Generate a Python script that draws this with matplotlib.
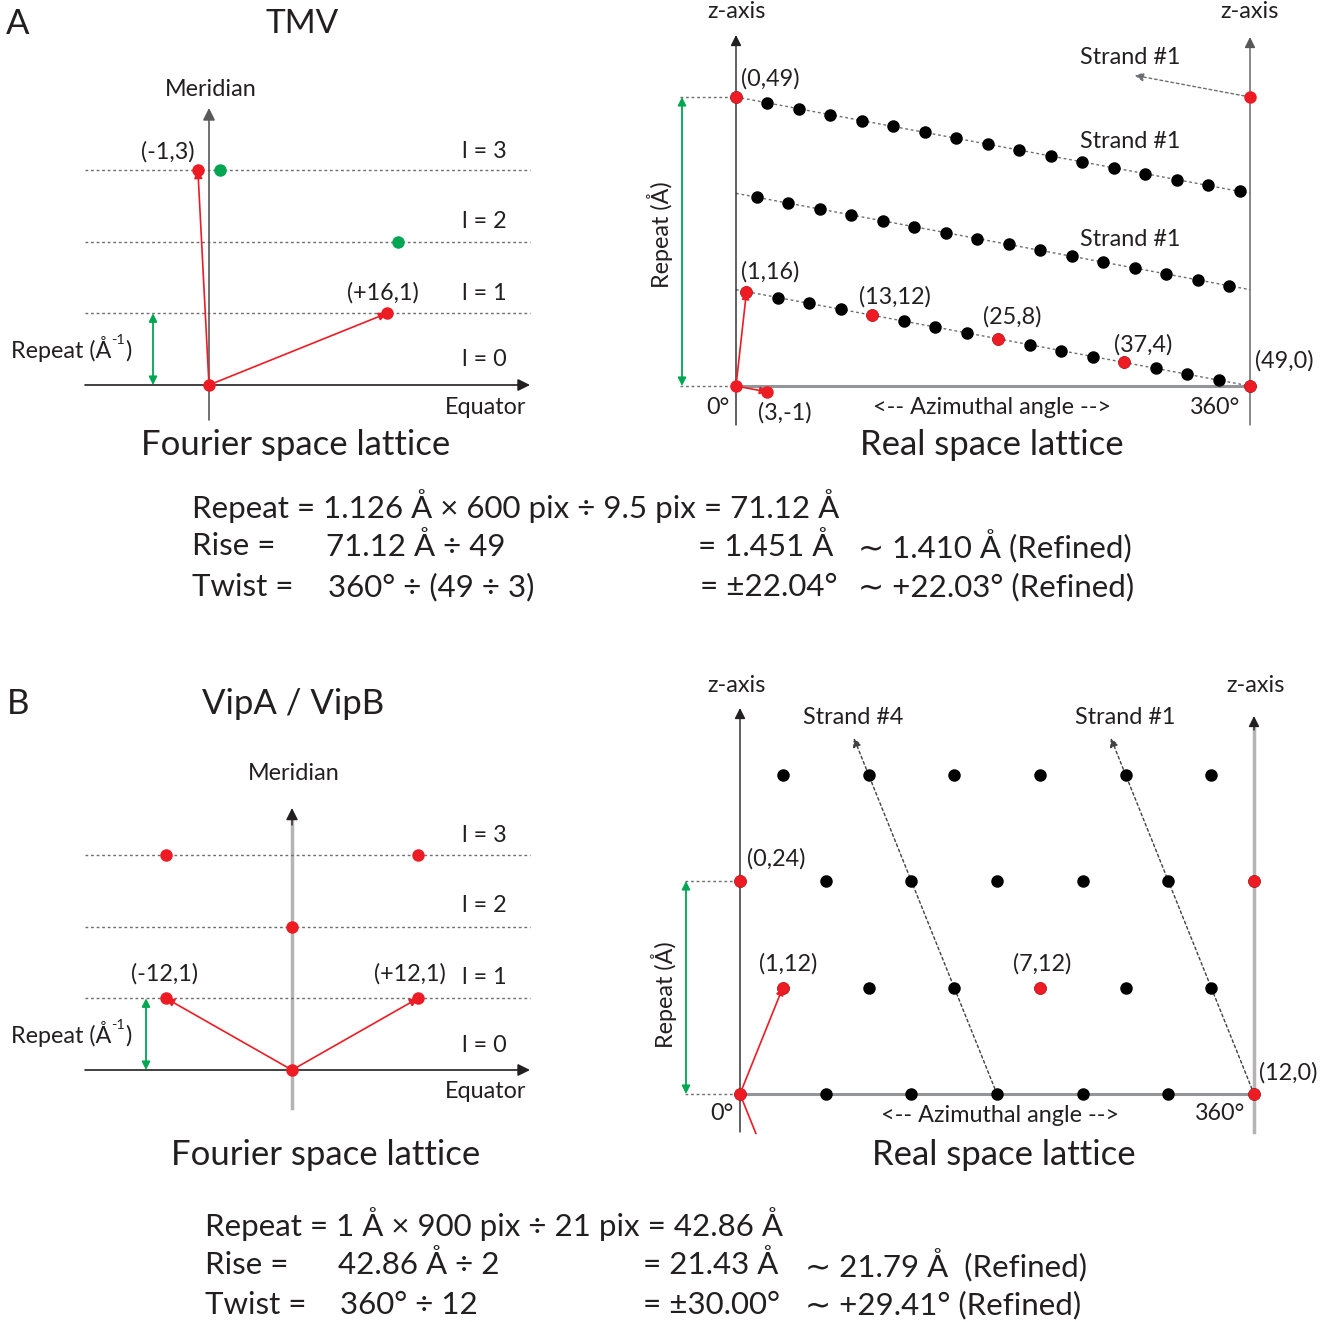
import matplotlib
matplotlib.use("Agg")
import matplotlib.pyplot as plt

plt.rcParams['font.family'] = ['Lato', 'DejaVu Sans']

W, H = 1330, 1322
RED = '#ed1c24'
GREEN = '#00a651'
BLK = '#231f20'
DOT = '#6d6e71'
LGRAY = '#b4b4b4'

# ---------------- data ----------------
# Panel A, Fourier space (Bessel order n, layer line l)
tmv_fourier_red_n = [0, 16, -1]
tmv_fourier_red_l = [0, 1, 3]
tmv_fourier_green_n = [1, 17]
tmv_fourier_green_l = [3, 2]
tmv_layer_lines = [1, 2, 3]

# Panel A, real space (azimuthal index, z index)
tmv_top_az = [0, 3, 6, 9, 12, 15, 18, 21, 24, 27, 30, 33, 36, 39, 42, 45, 48]
tmv_top_z = [49, 48, 47, 46, 45, 44, 43, 42, 41, 40, 39, 38, 37, 36, 35, 34, 33]
tmv_mid_az = [2, 5, 8, 11, 14, 17, 20, 23, 26, 29, 32, 35, 38, 41, 44, 47]
tmv_mid_z = [32, 31, 30, 29, 28, 27, 26, 25, 24, 23, 22, 21, 20, 19, 18, 17]
tmv_bot_az = [1, 4, 7, 10, 13, 16, 19, 22, 25, 28, 31, 34, 37, 40, 43, 46, 49]
tmv_bot_z = [16, 15, 14, 13, 12, 11, 10, 9, 8, 7, 6, 5, 4, 3, 2, 1, 0]
tmv_red_az = [0, 1, 13, 25, 37, 49, 0, 3, 49]
tmv_red_z = [49, 16, 12, 8, 4, 0, 0, -1, 49]
tmv_red_labels = ['(0,49)', '(1,16)', '(13,12)', '(25,8)', '(37,4)', '(49,0)', '', '(3,-1)', '']
tmv_units = 49

# Panel B, Fourier space
vip_fourier_red_n = [0, -12, 12, 0, -12, 12]
vip_fourier_red_l = [0, 1, 1, 2, 3, 3]
vip_layer_lines = [1, 2, 3]

# Panel B, real space
vip_row0_az = [0, 2, 4, 6, 8, 10, 12]
vip_row12_az = [1, 3, 5, 7, 9, 11]
vip_row24_az = [0, 2, 4, 6, 8, 10, 12]
vip_row36_az = [1, 3, 5, 7, 9, 11]
vip_row_z = [0, 12, 24, 36]
vip_red_az = [0, 12, 0, 12, 1, 7]
vip_red_z = [0, 0, 24, 24, 12, 12]
vip_units = 12
vip_repeat = 24

fig = plt.figure(figsize=(W / 100, H / 100), dpi=100)


def panel(ox, oy, sx, sy, xlim, ylim):
    left = ox + sx * xlim[0]
    right = ox + sx * xlim[1]
    bot = oy - sy * ylim[0]
    top = oy - sy * ylim[1]
    ax = fig.add_axes([left / W, 1 - bot / H, (right - left) / W, (bot - top) / H])
    ax.set_xlim(*xlim)
    ax.set_ylim(*ylim)
    ax.axis('off')
    ax.patch.set_alpha(0)
    return ax


def arrow(ax, start, end, color, lw=1.0, style='-|>', ms=14, z=3, ls='-'):
    ax.annotate('', xy=end, xytext=start,
                arrowprops=dict(arrowstyle=style, color=color, lw=lw, ls=ls,
                                mutation_scale=ms, shrinkA=0, shrinkB=0),
                zorder=z, annotation_clip=False)


DOTLS = (0, (2.0, 2.0))

# ============ Panel A Fourier ============
sxA, syA = 11.125, 71.7
axAF = panel(209, 385, sxA, syA, (-12, 30), (-0.7, 4.3))
xl0, xl1 = (85 - 209) / sxA, (530 - 209) / sxA
for l in tmv_layer_lines:
    axAF.plot([xl0, xl1], [l, l], color=DOT, lw=1, ls=DOTLS)
arrow(axAF, (xl0, 0), (xl1, 0), BLK, lw=1.2, ms=18)
arrow(axAF, (0, (385 - 420) / syA), (0, (385 - 108) / syA), '#58595b', lw=1.2, ms=18)
for n, l in zip(tmv_fourier_red_n[1:], tmv_fourier_red_l[1:]):
    arrow(axAF, (0, 0), (n, l), RED, lw=1.2, ms=12)
axAF.plot(tmv_fourier_red_n, tmv_fourier_red_l, 'o', color=RED, ms=9, zorder=5, mec='none')
axAF.plot(tmv_fourier_green_n, tmv_fourier_green_l, 'o', color=GREEN, ms=9, zorder=5, mec='none')
arrow(axAF, ((153 - 209) / sxA, 0), ((153 - 209) / sxA, 1), GREEN, lw=1.3, style='<|-|>', ms=12)

# ============ Panel A Real ============
sxR = 514 / tmv_units
syR = 289 / tmv_units
axAR = panel(736, 386, sxR, syR, (-8, 54), (-7.5, 61))
zb, zt = (386 - 425) / syR, (386 - 35) / syR
arrow(axAR, (0, zb), (0, zt), BLK, lw=1.0, ms=16)
arrow(axAR, (tmv_units, zb), (tmv_units, (386 - 37) / syR), '#58595b', lw=1.0, ms=16)
axAR.plot([0, tmv_units], [0, 0], color='#939598', lw=2.2, zorder=1)
slope = -1 / 3
for z0 in [49, 49 + slope * 49, 49 + 2 * slope * 49]:
    axAR.plot([0, tmv_units], [z0, z0 + slope * tmv_units], color=DOT, lw=1, ls=DOTLS, zorder=1)
xh = (680 - 736) / sxR
axAR.plot([xh, 0], [tmv_units, tmv_units], color=DOT, lw=1, ls=DOTLS)
axAR.plot([xh, 0], [0, 0], color=DOT, lw=1, ls=DOTLS)
arrow(axAR, ((682 - 736) / sxR, 0), ((682 - 736) / sxR, tmv_units), GREEN, lw=1.3, style='<|-|>', ms=12)
arrow(axAR, (tmv_units, tmv_units), (tmv_units - 11, tmv_units - 11 * slope), DOT, lw=1, ms=13, ls=DOTLS)
axAR.plot(tmv_top_az, tmv_top_z, 'o', color='k', ms=9, mec='none', zorder=4)
axAR.plot(tmv_mid_az, tmv_mid_z, 'o', color='k', ms=9, mec='none', zorder=4)
axAR.plot(tmv_bot_az, tmv_bot_z, 'o', color='k', ms=9, mec='none', zorder=4)
arrow(axAR, (0, 0), (1, 16), RED, lw=1.2, ms=11, z=6)
arrow(axAR, (0, 0), (3, -1), RED, lw=1.2, ms=11, z=6)
axAR.plot(tmv_red_az, tmv_red_z, 'o', color=RED, ms=9, mec='none', zorder=5)

# ============ Panel B Fourier ============
sxB, syB = 10.5, 71.7
axBF = panel(292, 1070, sxB, syB, (-21, 24), (-0.7, 4.3))
xl0, xl1 = (85 - 292) / sxB, (530 - 292) / sxB
for l in vip_layer_lines:
    axBF.plot([xl0, xl1], [l, l], color=DOT, lw=1, ls=DOTLS)
arrow(axBF, (xl0, 0), (xl1, 0), BLK, lw=1.2, ms=18)
axBF.plot([0, 0], [(1070 - 1108) / syB, (1070 - 818) / syB], color=LGRAY, lw=2.5, zorder=1)
arrow(axBF, (0, (1070 - 825) / syB), (0, (1070 - 808) / syB), BLK, lw=1.0, ms=18)
for n, l in zip(vip_fourier_red_n[1:3], vip_fourier_red_l[1:3]):
    arrow(axBF, (0, 0), (n, l), RED, lw=1.2, ms=12)
axBF.plot(vip_fourier_red_n, vip_fourier_red_l, 'o', color=RED, ms=9, zorder=5, mec='none')
arrow(axBF, ((146 - 292) / sxB, 0), ((146 - 292) / sxB, 1), GREEN, lw=1.3, style='<|-|>', ms=12)

# ============ Panel B Real ============
sxV = 514 / vip_units
syV = 213 / vip_repeat
axBR = panel(740, 1094, sxV, syV, (-2.2, 13.5), (-5.5, 45.5))
zb = (1094 - 1132) / syV
arrow(axBR, (0, zb), (0, (1094 - 708) / syV), BLK, lw=1.0, ms=16)
axBR.plot([vip_units, vip_units], [zb, (1094 - 725) / syV], color=LGRAY, lw=2.5, zorder=1)
arrow(axBR, (vip_units, (1094 - 730) / syV), (vip_units, (1094 - 716) / syV), BLK, lw=1.0, ms=16)
axBR.plot([0, vip_units], [0, 0], color='#939598', lw=2.2, zorder=1)
xh = (685 - 740) / sxV
axBR.plot([xh, 0], [vip_repeat, vip_repeat], color=DOT, lw=1, ls=DOTLS)
axBR.plot([xh, 0], [0, 0], color=DOT, lw=1, ls=DOTLS)
arrow(axBR, ((686 - 740) / sxV, 0), ((686 - 740) / sxV, vip_repeat), GREEN, lw=1.3, style='<|-|>', ms=12)
for a0 in [6, 12]:
    zend = (1094 - 738) / syV
    arrow(axBR, (a0, 0), (a0 - zend / 12, zend), '#414042', lw=1, ms=13, ls=DOTLS)
for row, z in zip([vip_row0_az, vip_row12_az, vip_row24_az, vip_row36_az], vip_row_z):
    axBR.plot(row, [z] * len(row), 'o', color='k', ms=9, mec='none', zorder=4)
arrow(axBR, (0, 0), (1, 12), RED, lw=1.2, ms=11, z=6)
axBR.plot([0, 0.37], [0, -12 * 0.37], color=RED, lw=1.2, zorder=6)
axBR.plot(vip_red_az, vip_red_z, 'o', color=RED, ms=9, mec='none', zorder=5)

# ============ Text overlay ============
axT = fig.add_axes([0, 0, 1, 1])
axT.set_xlim(0, W)
axT.set_ylim(H, 0)
axT.axis('off')
axT.patch.set_alpha(0)

S = 16.8   # small labels
T = 25     # titles
E = 22.5   # equations


def t(x, y, s, fs=S, ha='center', va='center', **kw):
    return axT.text(x, y, s, fontsize=fs, ha=ha, va=va, color=BLK, **kw)


def repeat_inv(x, y):
    t1 = t(x, y, 'Repeat (Å', ha='left', va='baseline')
    t2 = axT.annotate('-1', xy=(1, 0.62), xycoords=t1, fontsize=S * 0.62,
                      ha='left', va='bottom', color=BLK)
    axT.annotate(')', xy=(1, 0), xycoords=(t2, t1), fontsize=S,
                 ha='left', va='bottom', color=BLK)


# Panel A
t(18, 24, 'A', fs=T)
t(302, 24, 'TMV', fs=24)
t(211, 89, 'Meridian')
t(168, 152, '(-1,3)')
t(383, 293, '(+16,1)')
for yy, lab in zip([152, 221, 293, 360], ['l = 3', 'l = 2', 'l = 1', 'l = 0']):
    t(484, yy, lab)
repeat_inv(11, 358)
t(486, 407, 'Equator')
t(296, 445, 'Fourier space lattice', fs=T)

t(737, 12, 'z-axis')
t(1250, 12, 'z-axis')
for yy in [57, 141, 240]:
    t(1130, yy, 'Strand #1')
lab_pos_A = [(770, 79), (770, 272), (895, 297), (1012, 317), (1143, 345), (1284, 361), None, (785, 413), None]
for lab, p in zip(tmv_red_labels, lab_pos_A):
    if lab:
        t(p[0], p[1], lab)
t(660, 235, 'Repeat (Å)', rotation=90)
t(718, 408, '0°')
t(992, 408, '<-- Azimuthal angle -->')
t(1215, 408, '360°')
t(992, 445, 'Real space lattice', fs=T)

t(192, 506, 'Repeat = 1.126 Å × 600 pix ÷ 9.5 pix = 71.12 Å', fs=E, ha='left')
t(192, 546, 'Rise =', fs=E, ha='left')
t(326, 546, '71.12 Å ÷ 49', fs=E, ha='left')
t(698, 546, '= 1.451 Å', fs=E, ha='left')
t(858, 546, '∼ 1.410 Å (Refined)', fs=E, ha='left')
t(192, 587, 'Twist =', fs=E, ha='left')
t(328, 587, '360° ÷ (49 ÷ 3)', fs=E, ha='left')
t(700, 587, '= ±22.04°', fs=E, ha='left')
t(858, 587, '∼ +22.03° (Refined)', fs=E, ha='left')

# Panel B
t(18, 704, 'B', fs=T)
t(293, 704, 'VipA / VipB', fs=T)
t(294, 773, 'Meridian')
for yy, lab in zip([836, 906, 977, 1045], ['l = 3', 'l = 2', 'l = 1', 'l = 0']):
    t(484, yy, lab)
t(164, 974, '(-12,1)')
t(410, 974, '(+12,1)')
repeat_inv(11, 1043)
t(486, 1092, 'Equator')
t(326, 1155, 'Fourier space lattice', fs=T)

t(737, 686, 'z-axis')
t(1256, 686, 'z-axis')
t(853, 718, 'Strand #4')
t(1125, 718, 'Strand #1')
t(776, 859, '(0,24)')
t(788, 964, '(1,12)')
t(1042, 964, '(7,12)')
t(1288, 1073, '(12,0)')
t(664, 995, 'Repeat (Å)', rotation=90)
t(722, 1114, '0°')
t(1000, 1115, '<-- Azimuthal angle -->')
t(1220, 1114, '360°')
t(1004, 1155, 'Real space lattice', fs=T)

t(205, 1224, 'Repeat = 1 Å × 900 pix ÷ 21 pix = 42.86 Å', fs=E, ha='left')
t(205, 1265, 'Rise =', fs=E, ha='left')
t(338, 1265, '42.86 Å ÷ 2', fs=E, ha='left')
t(643, 1265, '= 21.43 Å', fs=E, ha='left')
t(805, 1265, '∼ 21.79 Å  (Refined)', fs=E, ha='left')
t(205, 1305, 'Twist =', fs=E, ha='left')
t(340, 1305, '360° ÷ 12', fs=E, ha='left')
t(643, 1305, '= ±30.00°', fs=E, ha='left')
t(805, 1305, '∼ +29.41° (Refined)', fs=E, ha='left')

fig.savefig('out.png', dpi=100, facecolor='white')
